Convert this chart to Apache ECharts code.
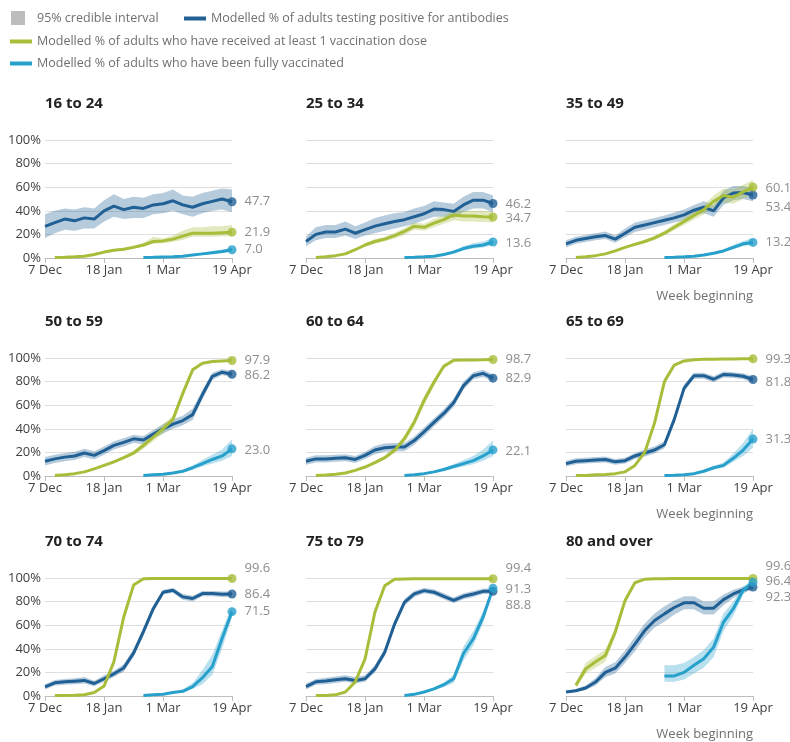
<!DOCTYPE html>
<html>
<head>
<meta charset="utf-8">
<script src="https://cdn.jsdelivr.net/npm/echarts@6/dist/echarts.min.js"></script>
<style>
  html, body { margin: 0; padding: 0; background: #fff; }
  #chart { width: 790px; height: 742px; }
</style>
</head>
<body>
<div id="chart"></div>
<script>
var N = null;

// week beginning, 7 Dec 2020 to 19 Apr 2021
var weeks = ['7 Dec', '14 Dec', '21 Dec', '28 Dec', '4 Jan', '11 Jan', '18 Jan', '25 Jan', '1 Feb', '8 Feb',
    '15 Feb', '22 Feb', '1 Mar', '8 Mar', '15 Mar', '22 Mar', '29 Mar', '5 Apr', '12 Apr', '19 Apr'];
var shownWeeks = [0, 6, 12, 19];

var titles = ['16 to 24', '25 to 34', '35 to 49', '50 to 59', '60 to 64', '65 to 69', '70 to 74', '75 to 79', '80 and over'];

// 16 to 24
var ab1624 = [26.8, 30, 33, 31.5, 34, 33, 40, 44, 41, 43, 42, 45, 46, 48.5, 45, 43, 46, 48, 50, 47.7];
var ab1624Lo = [17, 21, 24, 23, 25, 25, 31, 35, 33, 34, 34, 37, 38, 40, 37, 35, 38, 40, 41, 39];
var ab1624Hi = [37, 40, 42, 41, 43, 42, 49, 54, 50, 52, 51, 54, 55, 58, 53, 52, 55, 57, 59, 58];
var d1624 = [N, 0.5, 0.7, 1, 1.5, 3, 5, 6.5, 7.5, 9, 11, 14, 14.5, 16, 18.5, 21, 21, 21, 21.5, 21.9];
var d1624Lo = [N, 0.3, 0.5, 0.8, 1.2, 2.5, 4.3, 5.7, 6.5, 8, 9.5, 12, 12.5, 13.5, 15.5, 18, 18, 18, 18.5, 18.5];
var d1624Hi = [N, 0.7, 0.9, 1.2, 1.8, 3.5, 5.8, 7.4, 8.6, 10.5, 12.8, 18, 16.5, 19, 23, 26, 26, 27, 27, 28];
var f1624 = [N, N, N, N, N, N, N, N, N, N, 0.5, 0.6, 0.8, 1, 1.5, 2.5, 3.5, 4.5, 5.5, 7.0];
var f1624Lo = [N, N, N, N, N, N, N, N, N, N, 0.3, 0.4, 0.6, 0.8, 1.2, 2, 2.8, 3.5, 4.3, 5.5];
var f1624Hi = [N, N, N, N, N, N, N, N, N, N, 0.7, 0.8, 1, 1.3, 1.9, 3.2, 4.5, 6, 7.2, 9];

// 25 to 34
var ab2534 = [14, 20, 22, 22, 24.5, 21, 24, 27, 29, 31, 32.5, 35, 37.5, 41.5, 41, 39.5, 45, 49, 49, 46.2];
var ab2534Lo = [10, 15, 17, 17, 19, 16, 19, 21, 23, 25, 27, 29, 32, 35, 35, 34, 39, 42, 42, 39];
var ab2534Hi = [18, 26, 28, 28, 31, 27, 30, 34, 36, 38, 39, 42, 44, 48, 47, 46, 52, 56, 56, 53];
var d2534 = [N, 0.5, 1, 2, 3.5, 7, 11, 14, 16, 19, 22.5, 27, 26, 29.5, 32.5, 36.5, 35.5, 35.5, 35, 34.7];
var d2534Lo = [N, 0.3, 0.8, 1.6, 3, 6, 9.5, 12, 14, 16.5, 19.5, 24, 23, 26, 29, 32, 31, 31, 30.5, 30];
var d2534Hi = [N, 0.7, 1.2, 2.4, 4, 8, 12.5, 16, 18, 21.5, 25.5, 30, 29, 33, 36, 41, 40, 40, 40, 39.5];
var f2534 = [N, N, N, N, N, N, N, N, N, N, 0.5, 0.7, 1, 1.5, 3, 5, 8, 10, 11, 13.6];
var f2534Lo = [N, N, N, N, N, N, N, N, N, N, 0.3, 0.5, 0.7, 1.1, 2.3, 4, 6.5, 8, 9, 11];
var f2534Hi = [N, N, N, N, N, N, N, N, N, N, 0.7, 0.9, 1.3, 2, 3.8, 6.5, 10, 12.5, 14, 17];

// 35 to 49
var ab3549 = [12, 15, 16.5, 18, 19, 16, 21, 26, 28, 30, 32, 34, 36.5, 40.5, 43, 40, 51, 55, 55.5, 53.4];
var ab3549Lo = [9, 12, 13.5, 15, 16, 13, 17.5, 22, 24, 26, 28, 30, 32, 36, 38, 35, 45, 49, 50, 48];
var ab3549Hi = [15, 18, 19.5, 21, 22.5, 19, 25, 30, 32, 34, 36, 38.5, 41, 45, 48, 45, 57, 61, 61, 59];
var d3549 = [N, 0.5, 1, 2, 3.5, 6, 9, 11.5, 14, 17, 21, 26, 31, 36, 41, 48, 53, 51.5, 56, 60.1];
var d3549Lo = [N, 0.3, 0.8, 1.6, 3, 5.2, 8, 10.3, 12.5, 15.3, 19, 23.5, 28, 32.5, 37, 43, 47, 46, 50, 55];
var d3549Hi = [N, 0.7, 1.2, 2.4, 4, 6.8, 10, 12.7, 15.5, 18.7, 23, 28.5, 34, 40, 45, 53, 59, 58, 62, 66];
var f3549 = [N, N, N, N, N, N, N, N, N, N, 0.5, 0.7, 1, 1.5, 2.5, 4, 6, 9, 12, 13.2];
var f3549Lo = [N, N, N, N, N, N, N, N, N, N, 0.3, 0.5, 0.8, 1.2, 2, 3.3, 5, 7.5, 10, 11];
var f3549Hi = [N, N, N, N, N, N, N, N, N, N, 0.7, 0.9, 1.2, 1.8, 3, 4.8, 7.5, 11, 14.5, 17];

// 50 to 59
var ab5059 = [12.5, 14.5, 16, 17, 19.5, 17.5, 21.5, 26, 28.5, 31.5, 30.5, 35.5, 40, 44, 47, 52, 69, 84.5, 88, 86.2];
var ab5059Lo = [9, 11, 12.5, 13.5, 16, 14, 18, 22.5, 25, 28, 27, 32, 36, 40, 43, 47.5, 65, 81.5, 85.5, 83.5];
var ab5059Hi = [16, 18, 19.5, 20.5, 23, 21, 25, 29.5, 32, 35, 34, 39, 44, 48, 51, 57, 73, 87.5, 90.5, 89];
var d5059 = [N, 0.5, 1, 2, 3.5, 6, 9, 12, 15.5, 19.5, 25.8, 33, 40, 48, 70, 90, 95.5, 97, 97.5, 97.9];
var d5059Lo = [N, 0.4, 0.8, 1.7, 3, 5.3, 8, 10.8, 14, 17.5, 23, 29.5, 36, 45, 67, 88.5, 94.5, 96.5, 97, 97.4];
var d5059Hi = [N, 0.6, 1.2, 2.3, 4, 6.7, 10, 13.2, 17, 21.5, 28.5, 36.5, 44, 51, 73, 91.5, 96.5, 97.5, 98, 98.4];
var f5059 = [N, N, N, N, N, N, N, N, N, N, 0.5, 1, 1.5, 2.5, 4, 7, 10.5, 14, 17, 23];
var f5059Lo = [N, N, N, N, N, N, N, N, N, N, 0.3, 0.7, 1.1, 2, 3.2, 5.5, 8, 10.5, 13, 17];
var f5059Hi = [N, N, N, N, N, N, N, N, N, N, 0.7, 1.3, 1.9, 3, 5, 9, 13.5, 18, 22.5, 31];

// 60 to 64
var ab6064 = [12.5, 14.5, 14.5, 15, 15.5, 14, 17.5, 22, 24, 24.5, 24.5, 30, 37.5, 45.5, 53, 62, 76.5, 85, 87, 82.9];
var ab6064Lo = [9.5, 11.5, 11.5, 12, 12.5, 11, 14.5, 18.5, 20.5, 21, 21, 26.5, 34, 42, 49.5, 58.5, 73, 82, 84, 80];
var ab6064Hi = [15.5, 17.5, 17.5, 18, 18.5, 17, 20.5, 25.5, 27.5, 28, 28, 33.5, 41, 49, 56.5, 65.5, 80, 88, 90, 86];
var d6064 = [N, 0.5, 0.8, 1.5, 2.5, 4.8, 7.6, 11.3, 15.5, 21.8, 31.5, 45.6, 64, 79.4, 93, 98, 98.3, 98.4, 98.5, 98.7];
var d6064Lo = [N, 0.4, 0.6, 1.2, 2.1, 4.2, 6.8, 10.2, 14, 19.5, 28.5, 42, 60, 76, 91, 97.5, 98, 98.1, 98.2, 98.4];
var d6064Hi = [N, 0.6, 1, 1.8, 2.9, 5.4, 8.4, 12.4, 17, 24, 34.5, 49, 68, 82.5, 95, 98.5, 98.6, 98.7, 98.8, 99];
var f6064 = [N, N, N, N, N, N, N, N, N, N, 0.5, 1, 2, 3.5, 5.5, 8, 10.5, 13, 17, 22.1];
var f6064Lo = [N, N, N, N, N, N, N, N, N, N, 0.3, 0.7, 1.5, 2.7, 4.3, 6.3, 8, 10, 13, 17];
var f6064Hi = [N, N, N, N, N, N, N, N, N, N, 0.7, 1.3, 2.5, 4.3, 6.8, 10, 13.5, 17, 22.5, 30];

// 65 to 69
var ab6569 = [10.5, 12.5, 13, 13.5, 14, 12, 13, 17, 19.5, 22, 26.5, 48, 74.5, 85, 85, 82, 86, 85.5, 84.5, 81.8];
var ab6569Lo = [8, 10, 10.5, 11, 11.5, 9.5, 10.5, 14.5, 16.5, 19, 23.5, 45, 71.5, 82.5, 82.5, 79.5, 83.5, 83, 82, 79];
var ab6569Hi = [13, 15, 15.5, 16, 16.5, 14.5, 15.5, 19.5, 22.5, 25, 29.5, 51, 77.5, 87.5, 87.5, 84.5, 88.5, 88, 87, 84.5];
var d6569 = [N, 0.5, 0.5, 1, 1.2, 2, 3.5, 9, 20, 45, 80, 94, 97.5, 98.5, 99, 99, 99.2, 99.2, 99.3, 99.3];
var d6569Lo = [N, 0.4, 0.4, 0.8, 1, 1.7, 3, 8, 18, 42, 77, 93, 97, 98.2, 98.8, 98.8, 99, 99, 99.1, 99.1];
var d6569Hi = [N, 0.6, 0.6, 1.2, 1.4, 2.3, 4, 10, 22, 48, 83, 95, 98, 98.8, 99.2, 99.2, 99.4, 99.4, 99.5, 99.5];
var f6569 = [N, N, N, N, N, N, N, N, N, N, 0.5, 0.7, 1, 2, 4, 7, 9, 15, 22, 31.3];
var f6569Lo = [N, N, N, N, N, N, N, N, N, N, 0.3, 0.5, 0.8, 1.5, 3, 5.5, 7, 12, 17, 24];
var f6569Hi = [N, N, N, N, N, N, N, N, N, N, 0.7, 0.9, 1.3, 2.6, 5.2, 8.5, 11.5, 19, 28, 40];

// 70 to 74
var ab7074 = [7.8, 11.2, 12, 12.6, 13.2, 10.6, 14.6, 18.8, 23.8, 36.4, 54.6, 74, 88, 89.6, 84, 82.6, 86.8, 86.8, 86.2, 86.4];
var ab7074Lo = [5.5, 9, 9.5, 10, 10.5, 8.3, 12, 16, 20.5, 33, 51, 71, 86, 87.5, 81.5, 80, 84.5, 84.5, 84, 84];
var ab7074Hi = [10, 13.5, 14.5, 15, 16, 13, 17.5, 21.5, 27, 40, 58, 77, 90, 91.5, 86.5, 85, 89, 89, 88.5, 88.5];
var d7074 = [N, 0.5, 0.5, 0.7, 1, 3, 8.4, 29, 67, 94, 99.4, 99.5, 99.5, 99.5, 99.6, 99.6, 99.6, 99.6, 99.6, 99.6];
var d7074Lo = [N, 0.4, 0.4, 0.6, 0.8, 2.6, 7.5, 26, 63, 93, 99.2, 99.4, 99.4, 99.4, 99.5, 99.5, 99.5, 99.5, 99.5, 99.5];
var d7074Hi = [N, 0.6, 0.6, 0.8, 1.2, 3.4, 9.3, 32, 71, 95, 99.6, 99.6, 99.6, 99.6, 99.7, 99.7, 99.7, 99.7, 99.7, 99.7];
var f7074 = [N, N, N, N, N, N, N, N, N, N, 0.5, 1, 1.5, 3, 4, 8, 15.5, 25, 49, 71.5];
var f7074Lo = [N, N, N, N, N, N, N, N, N, N, 0.3, 0.7, 1.1, 2.3, 3, 6, 10, 18, 40, 67];
var f7074Hi = [N, N, N, N, N, N, N, N, N, N, 0.7, 1.3, 1.9, 3.7, 5.5, 11, 22, 35, 56, 76];

// 75 to 79
var ab7579 = [8, 12, 12.7, 13.8, 14.6, 13.2, 14.6, 23, 37, 61, 79.4, 86.5, 89.3, 88, 84.5, 81, 84.5, 86.5, 88.7, 88.8];
var ab7579Lo = [5.5, 9.5, 10, 11, 12, 10.5, 12, 20, 34, 58, 76.5, 84, 87, 85.5, 82, 78.5, 82, 84, 86.5, 86.5];
var ab7579Hi = [10.5, 14.5, 15.5, 16.5, 17.5, 16, 17.5, 26, 40, 64, 82.5, 89, 91.5, 90.5, 87, 83.5, 87, 89, 91, 91];
var d7579 = [N, 0.5, 0.5, 1, 3.4, 12, 31.5, 71, 93.5, 99, 99.2, 99.3, 99.3, 99.3, 99.4, 99.4, 99.4, 99.4, 99.4, 99.4];
var d7579Lo = [N, 0.4, 0.4, 0.8, 2.8, 10.5, 28.5, 68, 92, 98.7, 99, 99.1, 99.1, 99.1, 99.2, 99.2, 99.2, 99.2, 99.2, 99.2];
var d7579Hi = [N, 0.6, 0.6, 1.2, 4, 13.5, 34.5, 74, 95, 99.3, 99.4, 99.5, 99.5, 99.5, 99.6, 99.6, 99.6, 99.6, 99.6, 99.6];
var f7579 = [N, N, N, N, N, N, N, N, N, N, 0.5, 1.4, 3.4, 6, 9.6, 14.6, 36, 48.5, 67, 91.3];
var f7579Lo = [N, N, N, N, N, N, N, N, N, N, 0.3, 1, 2.6, 4.8, 7.5, 11, 30, 43, 62, 89];
var f7579Hi = [N, N, N, N, N, N, N, N, N, N, 0.7, 1.8, 4.2, 7.2, 11.5, 18, 42, 55, 72, 93];

// 80 and over
var ab80 = [3.4, 4.5, 6.8, 11.8, 20, 23.6, 33, 44, 55.5, 64, 69.6, 75, 79, 79, 74.4, 74.4, 81.7, 86.5, 90, 92.3];
var ab80Lo = [2.5, 3.3, 5, 9, 16, 19, 28, 38, 49.5, 58, 63, 69, 73.5, 73.5, 69, 69, 77, 83, 87.5, 90];
var ab80Hi = [4.5, 6, 9, 15, 24.5, 28.5, 38.5, 50, 61.5, 70, 76, 81, 84.5, 84.5, 80, 80, 86, 90, 92.5, 94.5];
var d80 = [N, 9, 23, 29, 34.4, 54, 81, 96, 99, 99.3, 99.4, 99.5, 99.5, 99.5, 99.5, 99.5, 99.6, 99.6, 99.6, 99.6];
var d80Lo = [N, 7, 19, 24, 29, 50, 78, 95, 98.6, 99, 99.2, 99.3, 99.3, 99.3, 99.3, 99.3, 99.4, 99.4, 99.4, 99.4];
var d80Hi = [N, 11, 28, 34, 39.5, 58, 84, 97, 99.3, 99.5, 99.6, 99.7, 99.7, 99.7, 99.7, 99.7, 99.8, 99.8, 99.8, 99.8];
var f80 = [N, N, N, N, N, N, N, N, N, N, 17, 17, 20, 26, 31.5, 41.4, 62.5, 74, 89.6, 96.4];
var f80Lo = [N, N, N, N, N, N, N, N, N, N, 12, 12, 14, 19, 24, 33, 55, 68, 86, 94];
var f80Hi = [N, N, N, N, N, N, N, N, N, N, 26, 26, 28, 33, 39, 49, 70, 80, 93, 98];

var abName = 'Modelled % of adults testing positive for antibodies';
var doseName = 'Modelled % of adults who have received at least 1 vaccination dose';
var fullName = 'Modelled % of adults who have been fully vaccinated';
var bandName = '95% credible interval';

var panels = [
    { ab: [ab1624, ab1624Lo, ab1624Hi], d: [d1624, d1624Lo, d1624Hi], f: [f1624, f1624Lo, f1624Hi] },
    { ab: [ab2534, ab2534Lo, ab2534Hi], d: [d2534, d2534Lo, d2534Hi], f: [f2534, f2534Lo, f2534Hi] },
    { ab: [ab3549, ab3549Lo, ab3549Hi], d: [d3549, d3549Lo, d3549Hi], f: [f3549, f3549Lo, f3549Hi] },
    { ab: [ab5059, ab5059Lo, ab5059Hi], d: [d5059, d5059Lo, d5059Hi], f: [f5059, f5059Lo, f5059Hi] },
    { ab: [ab6064, ab6064Lo, ab6064Hi], d: [d6064, d6064Lo, d6064Hi], f: [f6064, f6064Lo, f6064Hi] },
    { ab: [ab6569, ab6569Lo, ab6569Hi], d: [d6569, d6569Lo, d6569Hi], f: [f6569, f6569Lo, f6569Hi] },
    { ab: [ab7074, ab7074Lo, ab7074Hi], d: [d7074, d7074Lo, d7074Hi], f: [f7074, f7074Lo, f7074Hi] },
    { ab: [ab7579, ab7579Lo, ab7579Hi], d: [d7579, d7579Lo, d7579Hi], f: [f7579, f7579Lo, f7579Hi] },
    { ab: [ab80, ab80Lo, ab80Hi], d: [d80, d80Lo, d80Hi], f: [f80, f80Lo, f80Hi] }
];

// vertical nudges of the end labels so they don't collide (ab, d, f)
var labelNudge = [
    [0, 0, 0], [1, 1, 1], [12, 1, 0],
    [1, 0, 1], [0, 0, 1], [3, 0, 0],
    [0, -10, 0], [14, -10, 1], [10, -12, -1]
];

var measures = [
    { key: 'ab', name: abName, color: '#206095', band: 'rgba(32,96,149,0.33)' },
    { key: 'd', name: doseName, color: '#a8bd3a', band: 'rgba(168,189,58,0.33)' },
    { key: 'f', name: fullName, color: '#27a0cc', band: 'rgba(39,160,204,0.33)' }
];

var font = '"Open Sans", "Noto Sans", sans-serif';
var colLeft = [45, 306, 566];
var rowTop = [140, 358, 578];
var plotW = 187, plotH = 118;

var chart = echarts.init(document.getElementById('chart'));

var isShown = function (i) { return shownWeeks.indexOf(i) >= 0; };

var legendText = { color: '#707070', fontSize: 12.5, fontFamily: font };

var option = {
    animation: false,
    textStyle: { fontFamily: font },
    title: [],
    legend: [
        {
            left: 11, top: 11, padding: 0, selectedMode: false, icon: 'rect',
            itemWidth: 14, itemHeight: 14,
            data: [{ name: bandName, itemStyle: { color: '#bdbdbd' } }],
            textStyle: Object.assign({ padding: [0, 0, 0, 7] }, legendText)
        },
        {
            left: 184, top: 12, padding: 0, selectedMode: false, icon: 'rect',
            itemWidth: 22, itemHeight: 4,
            data: [{ name: abName, itemStyle: { color: '#206095' } }],
            textStyle: legendText
        },
        {
            left: 10, top: 35, padding: 0, selectedMode: false, icon: 'rect',
            itemWidth: 22, itemHeight: 4,
            data: [{ name: doseName, itemStyle: { color: '#a8bd3a' } }],
            textStyle: legendText
        },
        {
            left: 10, top: 57, padding: 0, selectedMode: false, icon: 'rect',
            itemWidth: 22, itemHeight: 4,
            data: [{ name: fullName, itemStyle: { color: '#27a0cc' } }],
            textStyle: legendText
        }
    ],
    grid: [],
    xAxis: [],
    yAxis: [],
    series: []
};

panels.forEach(function (p, k) {
    var col = k % 3, row = Math.floor(k / 3);

    option.title.push({
        text: titles[k], left: colLeft[col], top: rowTop[row] - 44, padding: 0,
        textStyle: { fontSize: 15, fontWeight: 'bold', color: '#222', fontFamily: font }
    });

    option.grid.push({ left: colLeft[col], top: rowTop[row], width: plotW, height: plotH });

    option.xAxis.push({
        type: 'category', gridIndex: k, data: weeks, boundaryGap: false,
        axisLine: { lineStyle: { color: '#bdbdbd' } },
        axisTick: { show: true, length: 5, interval: isShown, lineStyle: { color: '#bdbdbd' } },
        axisLabel: { interval: isShown, color: '#414042', fontSize: 13, margin: 6, fontFamily: font },
        splitLine: { show: false }
    });

    option.yAxis.push({
        type: 'value', gridIndex: k, min: 0, max: 100, interval: 20,
        axisLine: { show: false }, axisTick: { show: false },
        axisLabel: { show: col === 0, formatter: '{value}%', color: '#414042', fontSize: 13, margin: 4, fontFamily: font },
        splitLine: { lineStyle: { color: '#dedede' } }
    });

    measures.forEach(function (m, j) {
        var mid = p[m.key][0], lo = p[m.key][1], hi = p[m.key][2];
        var width = hi.map(function (h, i) {
            return h == null ? null : +(h - lo[i]).toFixed(2);
        });
        var stack = 'band' + k + m.key;

        option.series.push({
            type: 'line', xAxisIndex: k, yAxisIndex: k, data: lo, stack: stack,
            symbol: 'none', silent: true, z: 1,
            lineStyle: { width: 0, opacity: 0 }
        });
        option.series.push({
            name: bandName, type: 'line', xAxisIndex: k, yAxisIndex: k, data: width, stack: stack,
            symbol: 'none', silent: true, z: 1,
            itemStyle: { color: '#bdbdbd' },
            lineStyle: { width: 0, opacity: 0 },
            areaStyle: { color: m.band, opacity: 1 }
        });
        option.series.push({
            name: m.name, type: 'line', xAxisIndex: k, yAxisIndex: k, data: mid,
            symbol: 'none', silent: true, z: 3,
            itemStyle: { color: m.color },
            lineStyle: { width: 3, color: m.color }
        });

        var last = mid[mid.length - 1];
        option.series.push({
            type: 'scatter', xAxisIndex: k, yAxisIndex: k, data: [[mid.length - 1, last]],
            symbolSize: 9, silent: true, z: 4,
            itemStyle: { color: m.color },
            label: {
                show: true, position: 'right', distance: 8, offset: [0, labelNudge[k][j]],
                color: '#707070', fontSize: 13, fontFamily: font,
                formatter: function (d) { return d.value[1].toFixed(1); }
            }
        });
    });

    if (col === 2) {
        option.title.push({
            text: 'Week beginning', right: 790 - colLeft[2] - plotW, top: rowTop[row] + plotH + 32, padding: 0,
            textStyle: { fontSize: 13, fontWeight: 'normal', color: '#707070', fontFamily: font }
        });
    }
});

chart.setOption(option);
</script>
</body>
</html>
